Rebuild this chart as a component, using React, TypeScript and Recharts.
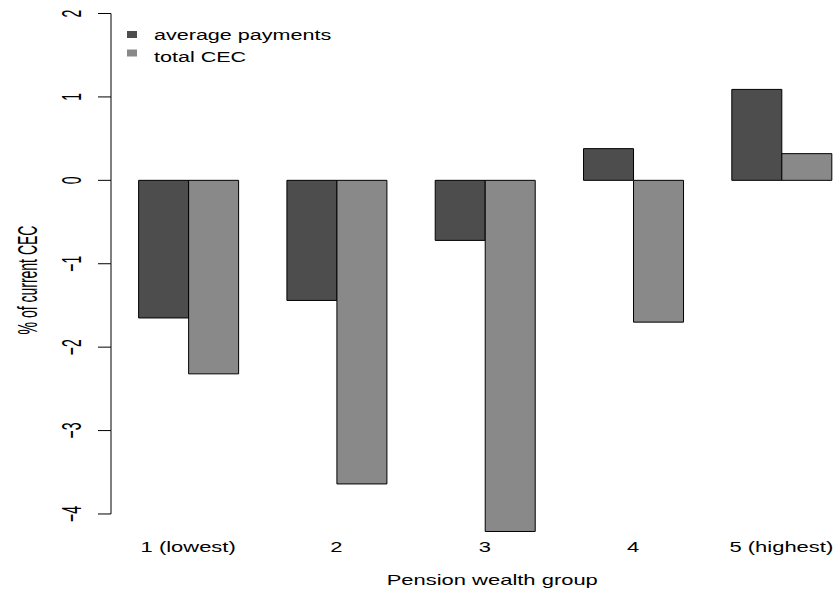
import React from "react";
import { BarChart, Bar, XAxis, YAxis, Legend } from "recharts";

const CATEGORIES = ["1 (lowest)", "2", "3", "4", "5 (highest)"];
const AVG_PAYMENTS = [-1.65, -1.44, -0.72, 0.38, 1.09];
const TOTAL_CEC = [-2.32, -3.64, -4.21, -1.7, 0.32];
const SERIES_NAMES = ["average payments", "total CEC"];
const Y_TICKS = [-4, -3, -2, -1, 0, 1, 2];

const data = CATEGORIES.map((name, i) => ({
  name,
  avg: AVG_PAYMENTS[i],
  total: TOTAL_CEC[i],
}));

// layout (R plot is stretched horizontally, hence the text scale)
const W = 870;
const H = 594;
const MARGIN = { top: 1, right: 14.5, bottom: 15, left: 11 };
const Y_AXIS_W = 100;
const X_AXIS_H = 40;
const Y_MIN = -4.3;
const Y_MAX = 2.15;
const PLOT_H = H - MARGIN.top - MARGIN.bottom - X_AXIS_H;
const UNIT_PX = PLOT_H / (Y_MAX - Y_MIN);
const TICK_SIZE = 13;
const TICK_MARGIN = 17;
const SX = 1.57;
const SX_ROT = 2.0;
const FONT = "'Liberation Sans', Arial, sans-serif";
const FS = 14;

const fmt = (v: number) => (v < 0 ? "\u2212" + Math.abs(v) : String(v));

function YTick(props: any) {
  const { x, y, payload } = props;
  const axisX = x + TICK_SIZE + TICK_MARGIN;
  const top = Y_TICKS[Y_TICKS.length - 1];
  return (
    <g>
      {payload.value < top && (
        <line x1={axisX} x2={axisX} y1={y} y2={y - UNIT_PX} stroke="#000" strokeWidth={1} />
      )}
      <text
        transform={`translate(${x},${y}) scale(${SX_ROT},1) rotate(-90)`}
        textAnchor="middle"
        fontFamily={FONT}
        fontSize={FS}
        fill="#000"
      >
        {fmt(payload.value)}
      </text>
    </g>
  );
}

function XTick(props: any) {
  const { x, y, payload } = props;
  return (
    <text
      transform={`translate(${x},${y + 13}) scale(${SX},1)`}
      textAnchor="middle"
      fontFamily={FONT}
      fontSize={FS}
      fill="#000"
    >
      {payload.value}
    </text>
  );
}

function YTitle(props: any) {
  const vb = props.viewBox;
  const x = vb.x + 26;
  const y = vb.y + vb.height / 2 + 10;
  return (
    <text
      transform={`translate(${x},${y}) scale(${SX_ROT},1) rotate(-90)`}
      textAnchor="middle"
      fontFamily={FONT}
      fontSize={FS}
      fill="#000"
    >
      % of current CEC
    </text>
  );
}

function XTitle(props: any) {
  const vb = props.viewBox;
  const x = vb.x + vb.width / 2 + 9;
  const y = vb.y + 46;
  return (
    <text
      transform={`translate(${x},${y}) scale(${SX},1)`}
      textAnchor="middle"
      fontFamily={FONT}
      fontSize={FS}
      fill="#000"
    >
      Pension wealth group
    </text>
  );
}

function LegendBox(props: any) {
  const items = props.payload || [];
  return (
    <svg width={340} height={70} style={{ display: "block" }}>
      {items.map((e: any, i: number) => (
        <g key={e.value}>
          <rect x={127} y={31 + i * 18.5} width={10} height={7} fill={e.color} />
          <text
            transform={`translate(154,${40 + i * 21.5}) scale(${SX - 0.03},1)`}
            fontFamily={FONT}
            fontSize={FS}
            fill="#000"
          >
            {e.value}
          </text>
        </g>
      ))}
    </svg>
  );
}

export default function App() {
  return (
    <div
      style={{
        position: "absolute",
        left: 0,
        top: 0,
        width: 835,
        height: 594,
        overflow: "hidden",
        background: "#fff",
      }}
    >
      <BarChart
        width={W}
        height={H}
        data={data}
        margin={MARGIN}
        barCategoryGap="16.6%"
        barGap={0}
      >
        <XAxis
          dataKey="name"
          axisLine={false}
          tickLine={false}
          tickSize={0}
          tickMargin={0}
          height={X_AXIS_H}
          padding={{ left: 3, right: 0 }}
          interval={0}
          tick={<XTick />}
          label={{ content: <XTitle /> }}
        />
        <YAxis
          domain={[Y_MIN, Y_MAX]}
          ticks={Y_TICKS}
          interval={0}
          width={Y_AXIS_W}
          axisLine={false}
          tickLine={{ stroke: "#000", strokeWidth: 1 }}
          tickSize={TICK_SIZE}
          tickMargin={TICK_MARGIN}
          tick={<YTick />}
          label={{ content: <YTitle /> }}
        />
        <Legend
          layout="vertical"
          align="center"
          verticalAlign="middle"
          wrapperStyle={{ left: 0, top: 0, width: 340, height: 70 }}
          content={<LegendBox />}
        />
        <Bar
          dataKey="avg"
          name={SERIES_NAMES[0]}
          fill="#4D4D4D"
          stroke="#000"
          strokeWidth={1}
          isAnimationActive={false}
        />
        <Bar
          dataKey="total"
          name={SERIES_NAMES[1]}
          fill="#898989"
          stroke="#000"
          strokeWidth={1}
          isAnimationActive={false}
        />
      </BarChart>
    </div>
  );
}
